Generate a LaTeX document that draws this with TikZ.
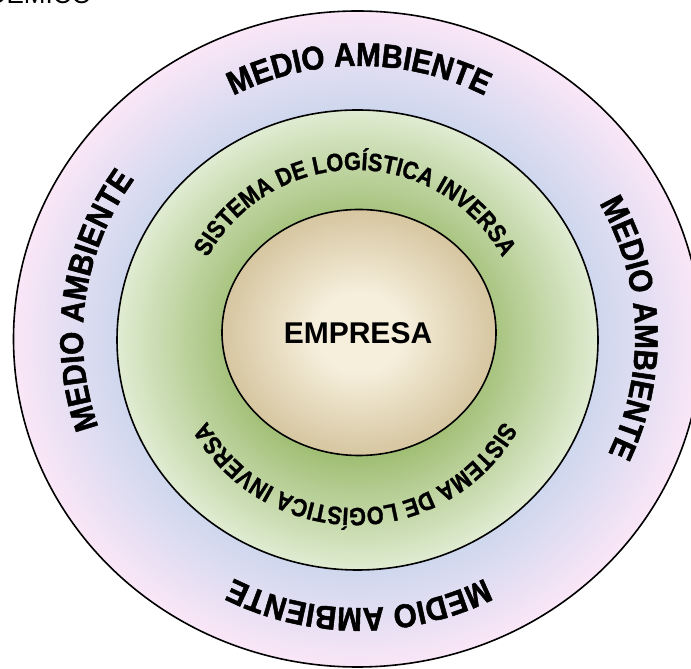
\documentclass[tikz,border=0pt]{standalone}
\usepackage{fontspec}
\setmainfont{Liberation Sans}
\newfontfamily\wordart[FakeStretch=0.9,FakeBold=1.5]{Liberation Sans Bold}
\newfontfamily\wordartb[FakeStretch=0.87,FakeBold=1.2]{Liberation Sans Bold}
\usetikzlibrary{decorations.text,calc}
\definecolor{ringblue}{RGB}{197,212,236}
\definecolor{ringpink}{RGB}{250,230,247}
\definecolor{gdark}{RGB}{162,191,118}
\definecolor{glight}{RGB}{224,236,210}
\definecolor{ecream}{RGB}{246,239,220}
\definecolor{etan}{RGB}{214,198,160}
\pgfdeclareradialshading{ringshade}{\pgfpoint{0bp}{0bp}}{color(0bp)=(ringblue); color(16bp)=(ringblue); color(25bp)=(ringpink); color(50bp)=(ringpink)}
\pgfdeclareradialshading{greenshade}{\pgfpoint{0bp}{0bp}}{color(0bp)=(gdark); color(13bp)=(gdark); color(25bp)=(glight); color(50bp)=(glight)}
\pgfdeclareradialshading{empshade}{\pgfpoint{0bp}{0bp}}{color(0bp)=(ecream); color(8bp)=(ecream); color(25bp)=(etan); color(50bp)=(etan)}
\tikzset{
  ringline/.style={draw=black, line width=1.6pt},
  medtext/.style={decorate, decoration={text along path, text align=center,
      text={|\wordart\fontsize{33}{38}\selectfont|MEDIO AMBIENTE}}},
  logtext/.style={decorate, decoration={text along path, text align=center,
      text={|\wordartb\fontsize{25}{29}\selectfont|SISTEMA DE LOGÍSTICA INVERSA}}},
}
\begin{document}
\begin{tikzpicture}[x=1pt,y=1pt]
\useasboundingbox (0,0) rectangle (691,669);
\clip (0,0) rectangle (691,669);
% centres
\coordinate (co) at (357.5,330);
\coordinate (cg) at (357.5,329);
\coordinate (ci) at (359,336.5);
\coordinate (cm) at (359,332);
\coordinate (cs) at (355,331);
% header fragment
\node[anchor=base east, inner sep=0pt, font=\fontsize{26}{30}\selectfont] (hdr) at (92,665) {DÉMICO};
% ellipses
\path[ringline, shading=ringshade] (co) ellipse [x radius=344, y radius=328];
\path[ringline, shading=greenshade] (cg) ellipse [x radius=240.5, y radius=230];
\path[ringline, shading=empshade] (ci) ellipse [x radius=137, y radius=123];
% centre label
\node[font=\fontsize{30}{34}\selectfont\bfseries, inner sep=0pt] (emp) at (358,335.5) {EMPRESA};
% MEDIO AMBIENTE (outer ring)
\path[medtext] ([shift={(170:276 and 271)}]cm) arc[start angle=170, end angle=10, x radius=276, y radius=271];
\path[medtext] ([shift={(82:276 and 271)}]cm) arc[start angle=82, end angle=-78, x radius=276, y radius=271];
\path[medtext] ([shift={(350:276 and 271)}]cm) arc[start angle=350, end angle=190, x radius=276, y radius=271];
\path[medtext] ([shift={(252:276 and 271)}]cm) arc[start angle=252, end angle=92, x radius=276, y radius=271];
% SISTEMA DE LOGISTICA INVERSA (green ring)
\path[logtext] ([shift={(170:168)}]cs) arc[start angle=170, end angle=10, radius=168];
\path[logtext] ([shift={(350:170)}]cs) arc[start angle=350, end angle=190, radius=170];
\end{tikzpicture}
\end{document}
